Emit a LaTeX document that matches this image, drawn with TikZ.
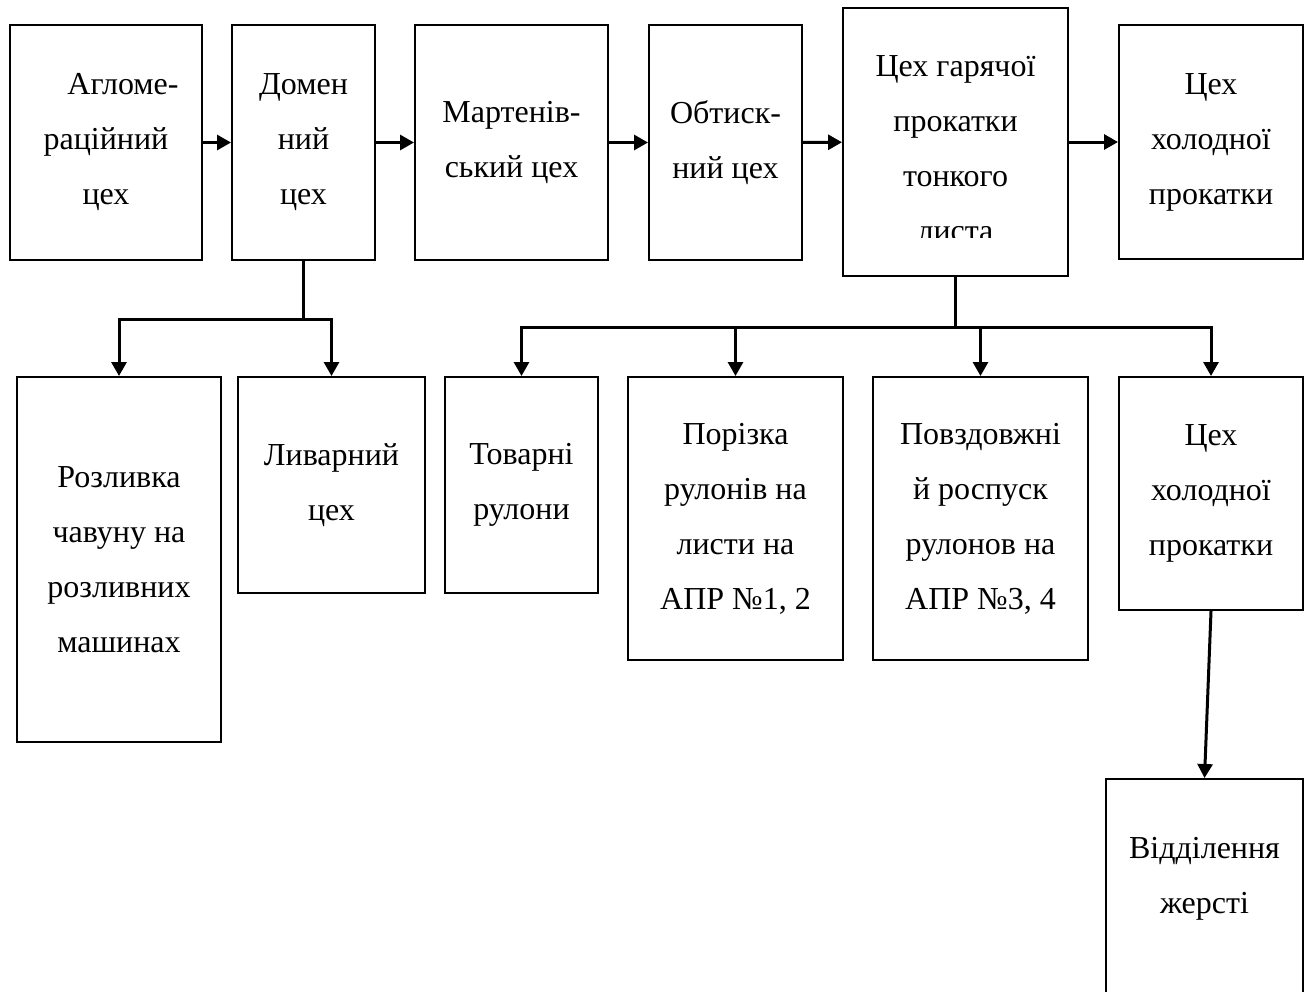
\documentclass[tikz,border=0pt]{standalone}
\usepackage{fontspec}
\setmainfont{Liberation Serif}
\usetikzlibrary{arrows.meta}
\begin{document}
\begin{tikzpicture}[x=0.5pt, y=-0.5pt, main/.style = {draw, rectangle, line width=1pt, align=center, inner sep=0pt, font=\fontsize{16}{27.5}\selectfont}, txt/.style = {align=center, inner sep=0pt, font=\fontsize{16}{27.5}\selectfont}, arr/.style = {line width=1.5pt, -{Triangle[length=7pt, width=7.5pt]}}, con/.style = {line width=1.5pt}]
\useasboundingbox (0,0) rectangle (1309,991);
\node[main, minimum width=96pt, minimum height=117.5pt] (1) at (106,142.5) {\hspace*{17pt}Агломе-\\раційний\\цех};
\node[main, minimum width=71.5pt, minimum height=117.5pt] (2) at (303.5,142.5) {Домен\\ний\\цех};
\node[main, minimum width=96.5pt, minimum height=117.5pt] (3) at (511.5,142.5) {Мартенів-\\ський цех};
\node[main, minimum width=76.5pt, minimum height=117.5pt] (4) at (725.5,142.5) {Обтиск-\\ний цех};
\node[main, minimum width=112.5pt, minimum height=134pt] (5) at (955.5,142) {};
\begin{scope}
\clip (845,10) rectangle (1066,237);
\node[txt] (5t) at (955.5,149) {Цех гарячої\\прокатки\\тонкого\\листа};
\end{scope}
\node[main, minimum width=92pt, minimum height=117pt] (6) at (1211,142) {Цех\\холодної\\прокатки};

\node[main, minimum width=102pt, minimum height=182.5pt] (7) at (119,559.5) {Розливка\\чавуну на\\розливних\\машинах};
\node[main, minimum width=93.5pt, minimum height=108pt] (8) at (331.5,485) {Ливарний\\цех};
\node[main, minimum width=76.5pt, minimum height=108pt] (9) at (521.5,485) {Товарні\\рулони};
\node[main, minimum width=107.5pt, minimum height=141.5pt] (10) at (735.5,518.5) {Порізка\\рулонів на\\листи на\\АПР №1, 2};
\node[main, minimum width=107.5pt, minimum height=141.5pt] (11) at (980.5,518.5) {Повздовжні\\й роспуск\\рулонов на\\АПР №3, 4};
\node[main, minimum width=92pt, minimum height=116.5pt] (12) at (1211,493.5) {Цех\\холодної\\прокатки};
\node[main, minimum width=98.5pt, minimum height=120.5pt] (13) at (1204.5,899.5) {};
\node[txt] (13t) at (1204.5,879) {Відділення\\жерсті};

\draw[arr] (1)--(2);
\draw[arr] (2)--(3);
\draw[arr] (3)--(4);
\draw[arr] (4)--(5);
\draw[arr] (5)--(6);

\draw[con] (2.south) -- ++(0,58) coordinate (b);
\draw[arr] (b) -| (7.north); \draw[arr] (b) -| (8.north);
\draw[con] (5.south) -- ++(0,50) coordinate (c);
\draw[arr] (c) -| (9.north); \draw[arr] (c) -| (10.north);
\draw[arr] (c) -| (11.north); \draw[arr] (c) -| (12.north);
\draw[arr] (12.south) -- (13.north);
\end{tikzpicture}
\end{document}
